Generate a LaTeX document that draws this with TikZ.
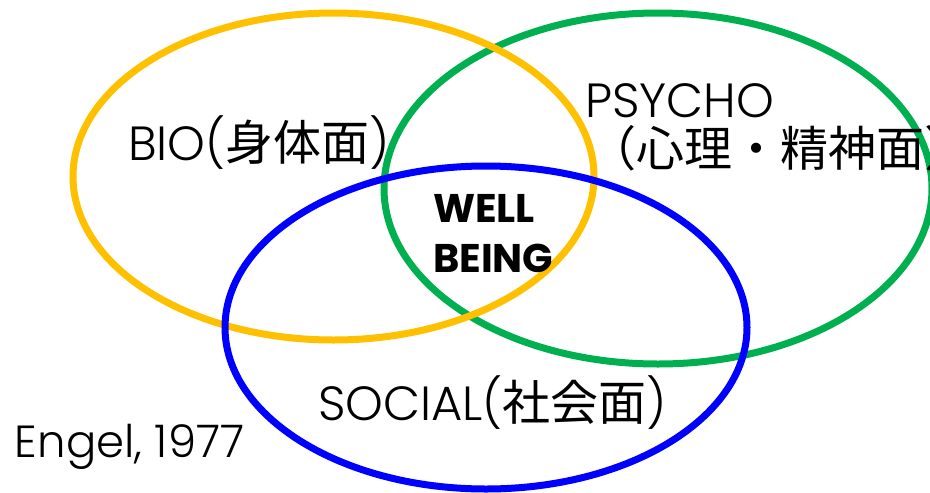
\documentclass[tikz,border=0pt]{standalone}
\usepackage{fontspec}
\setmainfont{Poppins}[UprightFont=* Light, BoldFont=* Bold]
\newfontfamily\jp{Noto Sans CJK JP}
\definecolor{cyellow}{RGB}{255,192,0}
\definecolor{cgreen}{RGB}{0,176,80}
\definecolor{cblue}{RGB}{0,0,255}
\begin{document}
\begin{tikzpicture}[x=1pt,y=-1pt,
  ring/.style={line width=7pt},
  lbl/.style={anchor=base west,inner sep=0pt,outer sep=0pt,font=\fontsize{48}{56}\selectfont},
  wb/.style={anchor=base west,inner sep=0pt,outer sep=0pt,font=\fontsize{40}{48}\selectfont\bfseries}]
\useasboundingbox (0,0) rectangle (930,493);
\clip (0,0) rectangle (930,493);
\fill[white] (0,0) rectangle (930,493);
\draw[ring,cgreen] (658,188.5) ellipse [x radius=274, y radius=175.5];
\draw[ring,cyellow] (333.5,176.5) ellipse [x radius=260.5, y radius=163.5];
\draw[ring,cblue] (486,327.5) ellipse [x radius=261, y radius=161.5];
\node[lbl] (bio) at (128,160) {BIO({\jp 身体面})};
\node[lbl] (psy) at (585,117) {PSYCHO};
\node[lbl] (psyj) at (588,166) {\jp （心理・精神面）};
\node[wb] (well) at (433,222) {WELL};
\node[wb] (being) at (433,272) {BEING};
\node[lbl] (soc) at (318,420) {SOCIAL({\jp 社会面})};
\node[lbl,font=\fontsize{45}{52}\selectfont] (eng) at (15,457) {Engel, 1977};
\end{tikzpicture}
\end{document}
